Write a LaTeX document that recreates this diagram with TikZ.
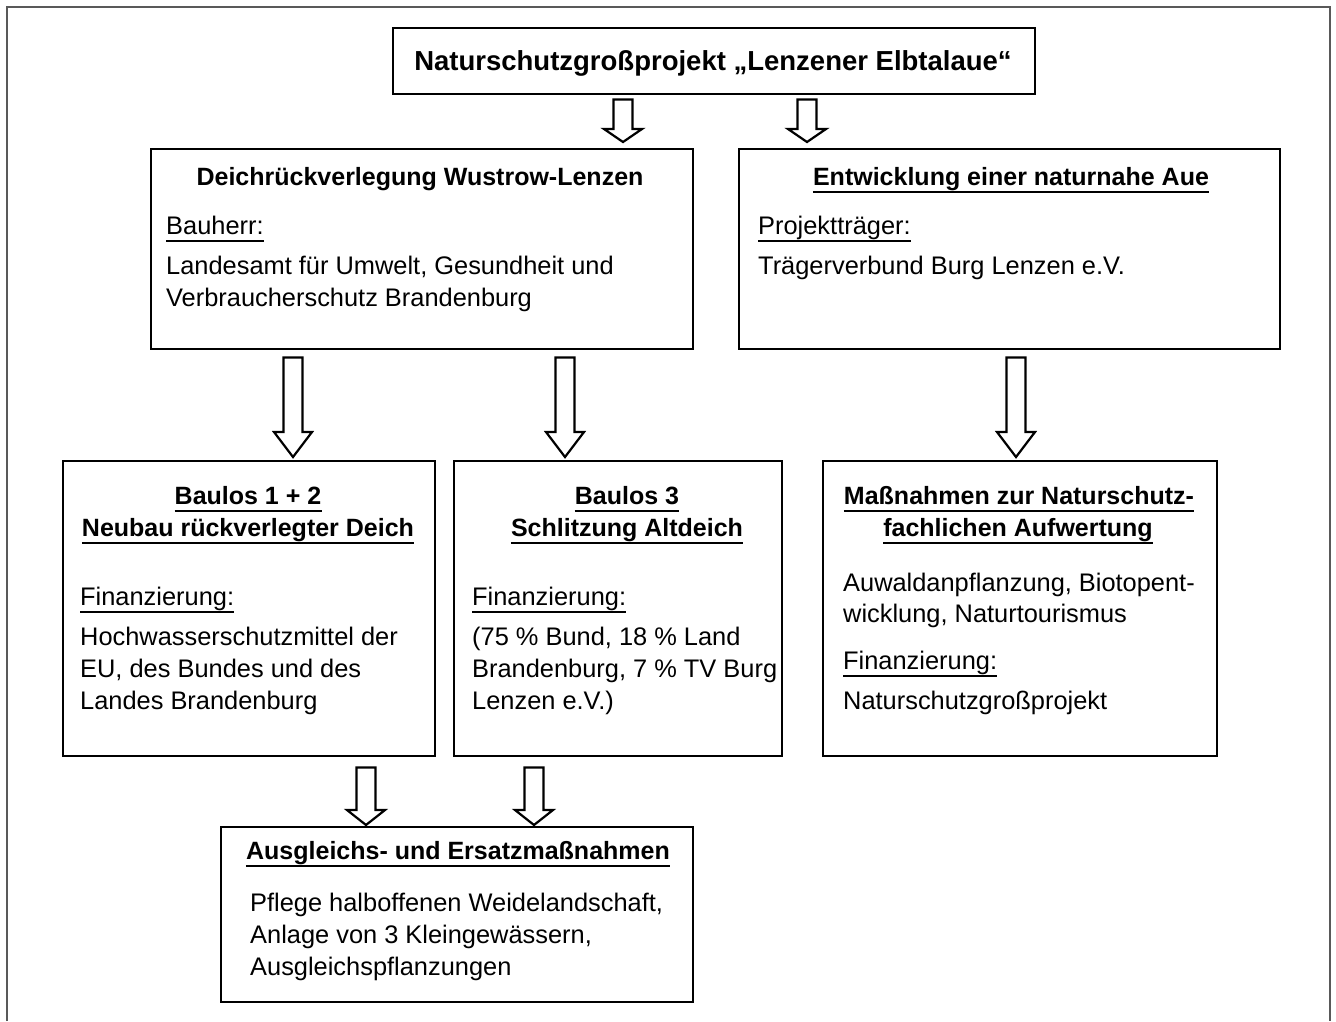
\documentclass[tikz,border=0pt]{standalone}
\usepackage{fontspec}
\setmainfont{Liberation Sans}
\usetikzlibrary{calc}
\newcommand\blockarrow[6]{%
  \draw[barrow] let \p1=(#2.south), \p2=(#3.north) in
   (#1pt-9.5pt, \y1-#4pt) -- (#1pt+9.5pt, \y1-#4pt) -- (#1pt+9.5pt, \y2+#5pt+#6pt)
   -- (#1pt+19pt, \y2+#5pt+#6pt) -- (#1pt, \y2+#5pt) -- (#1pt-19pt, \y2+#5pt+#6pt)
   -- (#1pt-9.5pt, \y2+#5pt+#6pt) -- cycle;}
\newcommand\ulnode[2]{\draw[line width=#2pt] ($(#1.base west)+(0,7)$) -- ($(#1.base east)+(0,7)$);}
\tikzset{
  box/.style={draw=black, line width=2.4pt, fill=white, inner sep=0pt, anchor=north west},
  barrow/.style={draw=black, line width=2.2pt, fill=white, line join=miter},
  txt/.style={inner sep=0pt, anchor=base west, font=\fontsize{25.4}{32}\selectfont},
  ttl/.style={inner sep=0pt, anchor=base, font=\fontsize{25}{32}\selectfont\bfseries},
}
\begin{document}
\begin{tikzpicture}[x=1pt,y=-1pt]
\useasboundingbox (0,0) rectangle (1336,1021);
\fill[white] (0,0) rectangle (1336,1021);
\draw[draw=black!65, line width=2pt] (7,1021) -- (7,7) -- (1330,7) -- (1330,1021);

% boxes
\node[box, minimum width=642pt, minimum height=66pt] (top) at (392,27) {};
\node[box, minimum width=542pt, minimum height=200pt] (deich) at (150,148) {};
\node[box, minimum width=541pt, minimum height=200pt] (entw) at (738,148) {};
\node[box, minimum width=372pt, minimum height=295pt] (b12) at (62,460) {};
\node[box, minimum width=328pt, minimum height=295pt] (b3) at (453,460) {};
\node[box, minimum width=394pt, minimum height=295pt] (mass) at (822,460) {};
\node[box, minimum width=472pt, minimum height=175pt] (ausg) at (220,826) {};

% title
\node[inner sep=0pt, anchor=base, font=\fontsize{27.5}{32}\selectfont\bfseries] (toptxt) at (713,70) {Naturschutzgroßprojekt „Lenzener Elbtalaue“};

% Deich
\node[ttl] (deich-t) at (420,185) {Deichrückverlegung Wustrow-Lenzen};
\node[txt] (deich-a) at (166,234) {Bauherr:};
\node[txt] (deich-b) at (166,274) {Landesamt für Umwelt, Gesundheit und};
\node[txt] (deich-c) at (166,306) {Verbraucherschutz Brandenburg};

% Entwicklung
\node[ttl] (entw-t) at (1011,185) {Entwicklung einer naturnahe Aue};
\node[txt] (entw-a) at (758,234) {Projektträger:};
\node[txt] (entw-b) at (758,274) {Trägerverbund Burg Lenzen e.V.};

% Baulos 1+2
\node[ttl] (b12-t1) at (248,504) {Baulos 1 + 2};
\node[ttl] (b12-t2) at (248,536) {Neubau rückverlegter Deich};
\node[txt] (b12-a) at (80,605) {Finanzierung:};
\node[txt] (b12-b) at (80,645) {Hochwasserschutzmittel der};
\node[txt] (b12-c) at (80,677) {EU, des Bundes und des};
\node[txt] (b12-d) at (80,709) {Landes Brandenburg};

% Baulos 3
\node[ttl] (b3-t1) at (627,504) {Baulos 3};
\node[ttl] (b3-t2) at (627,536) {Schlitzung Altdeich};
\node[txt] (b3-a) at (472,605) {Finanzierung:};
\node[txt] (b3-b) at (472,645) {(75 \% Bund, 18 \% Land};
\node[txt] (b3-c) at (472,677) {Brandenburg, 7 \% TV Burg};
\node[txt] (b3-d) at (472,709) {Lenzen e.V.)};

% Massnahmen
\node[ttl] (mass-t1) at (1019,504) {Maßnahmen zur Naturschutz-};
\node[ttl] (mass-t2) at (1018,536) {fachlichen Aufwertung};
\node[txt] (mass-a) at (843,591) {Auwaldanpflanzung, Biotopent-};
\node[txt] (mass-b) at (843,622) {wicklung, Naturtourismus};
\node[txt] (mass-c) at (843,669) {Finanzierung:};
\node[txt] (mass-d) at (843,709) {Naturschutzgroßprojekt};

% Ausgleich
\node[ttl] (ausg-t) at (458,859) {Ausgleichs- und Ersatzmaßnahmen};
\node[txt] (ausg-a) at (250,911) {Pflege halboffenen Weidelandschaft,};
\node[txt] (ausg-b) at (250,943) {Anlage von 3 Kleingewässern,};
\node[txt] (ausg-c) at (250,975) {Ausgleichspflanzungen};

% underlines
\ulnode{deich-a}{1.6}
\ulnode{entw-t}{2.2}
\ulnode{entw-a}{1.6}
\ulnode{b12-t1}{2.2}
\ulnode{b12-t2}{2.2}
\ulnode{b12-a}{1.6}
\ulnode{b3-t1}{2.2}
\ulnode{b3-t2}{2.2}
\ulnode{b3-a}{1.6}
\ulnode{mass-t1}{2.2}
\ulnode{mass-t2}{2.2}
\ulnode{mass-c}{1.6}
\ulnode{ausg-t}{2.2}

% block arrows
\blockarrow{623}{top}{deich}{4}{6}{13}
\blockarrow{807}{top}{entw}{4}{6}{13}
\blockarrow{293}{deich}{b12}{7}{3}{25}
\blockarrow{565}{deich}{b3}{7}{3}{25}
\blockarrow{1016}{entw}{mass}{7}{3}{25}
\blockarrow{366}{b12}{ausg}{10}{1}{15}
\blockarrow{534}{b3}{ausg}{10}{1}{15}
\end{tikzpicture}
\end{document}
